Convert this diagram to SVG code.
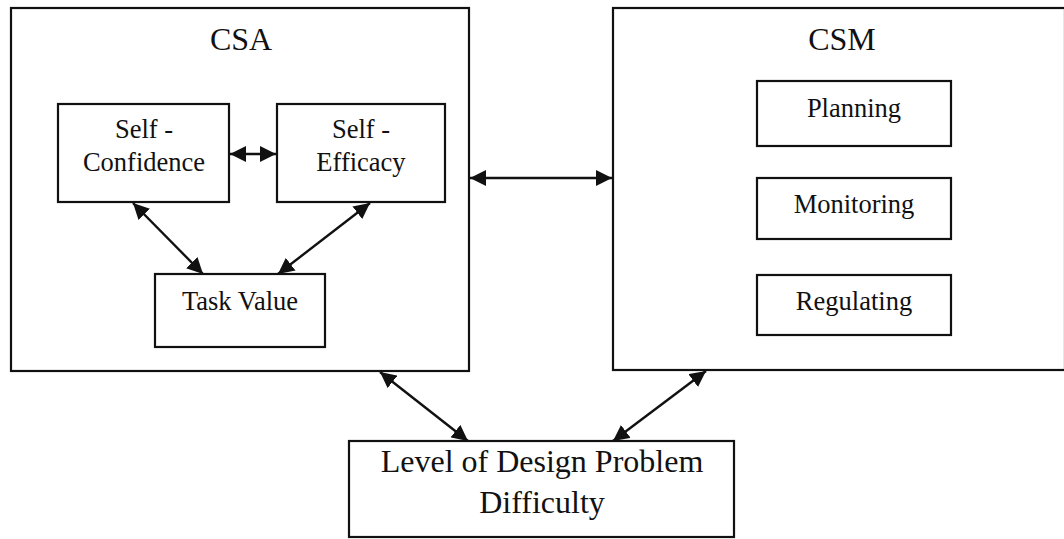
<svg xmlns="http://www.w3.org/2000/svg" width="1064" height="539" viewBox="0 0 1064 539">
<style>
.box{fill:#fff;stroke:#111;stroke-width:2.2}
.t{font-family:"Liberation Serif","Times New Roman",serif;fill:#111;text-anchor:middle}
.s{font-size:26.5px}
.b{font-size:32px}
.c{stroke:#111;stroke-width:2.4;fill:none;marker-start:url(#ah);marker-end:url(#ah)}
</style>
<defs>
<marker id="ah" viewBox="0 0 16 16" refX="16" refY="8" markerWidth="16" markerHeight="16" markerUnits="userSpaceOnUse" orient="auto-start-reverse">
<path d="M0,0 L16,8 L0,16 z" fill="#111"/>
</marker>
</defs>
<rect width="1064" height="539" fill="#fff"/>
<g id="csa">
<rect class="box" x="11" y="8" width="458" height="363"/>
<text class="t b" x="241" y="50">CSA</text>
</g>
<g id="csm">
<rect class="box" x="613" y="8" width="452" height="362"/>
<text class="t b" x="842" y="50">CSM</text>
</g>
<g id="self-confidence">
<rect class="box" x="58" y="104" width="171" height="98"/>
<text class="t s" x="144" y="138">Self -</text>
<text class="t s" x="144" y="171">Confidence</text>
</g>
<g id="self-efficacy">
<rect class="box" x="277" y="104" width="168" height="98"/>
<text class="t s" x="361" y="138">Self -</text>
<text class="t s" x="361" y="171">Efficacy</text>
</g>
<g id="task-value">
<rect class="box" x="155" y="274" width="170" height="73"/>
<text class="t s" x="240" y="310">Task Value</text>
</g>
<g id="planning">
<rect class="box" x="757" y="81" width="194" height="65"/>
<text class="t s" x="854" y="117">Planning</text>
</g>
<g id="monitoring">
<rect class="box" x="757" y="178" width="194" height="61"/>
<text class="t s" x="854" y="213">Monitoring</text>
</g>
<g id="regulating">
<rect class="box" x="757" y="275" width="194" height="60"/>
<text class="t s" x="854" y="310">Regulating</text>
</g>
<g id="level">
<rect class="box" x="349" y="441" width="385" height="96"/>
<text class="t b" x="542" y="472">Level of Design Problem</text>
<text class="t b" x="542" y="513">Difficulty</text>
</g>
<g id="connectors">
<line class="c" x1="230" y1="154" x2="276" y2="154"/>
<line class="c" x1="133" y1="203" x2="203" y2="274"/>
<line class="c" x1="370" y1="203" x2="278" y2="274"/>
<line class="c" x1="470" y1="178" x2="612" y2="178"/>
<line class="c" x1="380" y1="372" x2="468" y2="441"/>
<line class="c" x1="706" y1="371" x2="613" y2="441"/>
</g>
</svg>
